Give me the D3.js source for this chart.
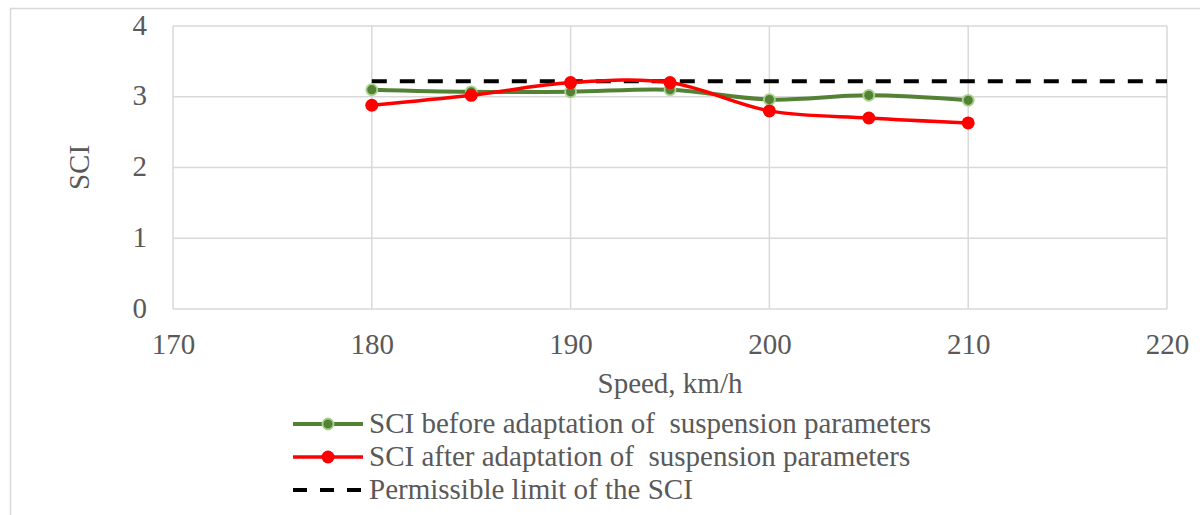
<!DOCTYPE html>
<html>
<head>
<meta charset="utf-8">
<script src="https://cdn.jsdelivr.net/npm/d3@7"></script>
<style>
  body { margin: 0; background: #fff; }
  text { font-family: "Liberation Serif", "Times New Roman", serif; }
</style>
</head>
<body>
<svg id="chart" width="1200" height="515"></svg>
<script>
// data
const speeds = [180, 185, 190, 195, 200, 205, 210];
const sciBefore = [3.10, 3.07, 3.07, 3.10, 2.96, 3.02, 2.95];
const sciAfter = [2.88, 3.02, 3.20, 3.20, 2.80, 2.70, 2.63];
const sciLimit = 3.22;
const limitRange = [180, 220];
const xTicks = [170, 180, 190, 200, 210, 220];
const yTicks = [0, 1, 2, 3, 4];
const legendLabels = [
  "SCI before adaptation of  suspension parameters",
  "SCI after adaptation of  suspension parameters",
  "Permissible limit of the SCI"
];

const svg = d3.select("#chart");
const margin = {left: 173, top: 26, right: 33, bottom: 206};
const innerWidth = 1200 - margin.left - margin.right;
const innerHeight = 515 - margin.top - margin.bottom;
const fontSize = 29;
const textColor = "#595959";

// outer frame (only left and top edges are visible)
svg.append("path")
  .attr("d", "M10.5,515 V8.5 H1200")
  .style("fill", "none").style("stroke", "#d9d9d9").style("stroke-width", 1.5);

const xScale = d3.scaleLinear().domain([170, 220]).range([0, innerWidth]);
const yScale = d3.scaleLinear().domain([0, 4]).range([innerHeight, 0]);

const g = svg.append("g").attr("transform", `translate(${margin.left},${margin.top})`);

// grid
g.selectAll(".hgrid").data(yTicks).enter().append("line")
  .attr("x1", 0).attr("x2", innerWidth)
  .attr("y1", d => yScale(d)).attr("y2", d => yScale(d))
  .style("stroke", "#d9d9d9").style("stroke-width", 1.5);
g.selectAll(".vgrid").data(xTicks).enter().append("line")
  .attr("x1", d => xScale(d)).attr("x2", d => xScale(d))
  .attr("y1", 0).attr("y2", innerHeight)
  .style("stroke", "#d9d9d9").style("stroke-width", 1.5);

// axes
const yAxis = d3.axisLeft(yScale).tickValues(yTicks).tickFormat(d3.format("d"))
  .tickSize(0).tickPadding(26);
const yG = g.append("g").call(yAxis)
  .attr("font-size", fontSize).attr("font-family", "Liberation Serif");
yG.select(".domain").remove();
yG.selectAll("text").attr("fill", textColor).attr("dy", "0.28em");

const xAxis = d3.axisBottom(xScale).tickValues(xTicks).tickFormat(d3.format("d"))
  .tickSize(0).tickPadding(24);
const xG = g.append("g").attr("transform", `translate(0,${innerHeight})`).call(xAxis)
  .attr("font-size", fontSize).attr("font-family", "Liberation Serif");
xG.select(".domain").remove();
xG.selectAll("text").attr("fill", textColor);

// axis titles
g.append("text")
  .attr("x", xScale(195)).attr("y", innerHeight + 84)
  .attr("text-anchor", "middle")
  .style("font-size", fontSize + "px").style("fill", textColor)
  .text("Speed, km/h");

g.append("text")
  .attr("transform", "rotate(-90)")
  .attr("x", -yScale(2)).attr("y", -84)
  .attr("text-anchor", "middle")
  .style("font-size", fontSize + "px").style("fill", textColor)
  .text("SCI");

// limit line
g.append("line")
  .attr("x1", xScale(limitRange[0])).attr("x2", xScale(limitRange[1]))
  .attr("y1", yScale(sciLimit)).attr("y2", yScale(sciLimit))
  .style("stroke", "#000").style("stroke-width", 4)
  .style("stroke-dasharray", "15,13");

const line = d3.line()
  .x((d, i) => xScale(speeds[i]))
  .y(d => yScale(d))
  .curve(d3.curveCardinal.tension(0));

// before
g.append("path").datum(sciBefore)
  .attr("d", line)
  .style("fill", "none").style("stroke", "#548235").style("stroke-width", 4);
g.selectAll(".pb").data(sciBefore).enter().append("circle")
  .attr("cx", (d, i) => xScale(speeds[i])).attr("cy", d => yScale(d))
  .attr("r", 5.5)
  .style("fill", "#548235").style("stroke", "#a9d18e").style("stroke-width", 1.8);

// after
g.append("path").datum(sciAfter)
  .attr("d", line)
  .style("fill", "none").style("stroke", "#ff0000").style("stroke-width", 3.5);
g.selectAll(".pa").data(sciAfter).enter().append("circle")
  .attr("cx", (d, i) => xScale(speeds[i])).attr("cy", d => yScale(d))
  .attr("r", 6.5)
  .style("fill", "#ff0000");

// legend
const legendY = [424, 457, 490];
const lx1 = 293, lx2 = 363;
legendY.forEach((y, i) => {
  if (i === 0) {
    svg.append("line").attr("x1", lx1).attr("x2", lx2).attr("y1", y).attr("y2", y)
      .style("stroke", "#548235").style("stroke-width", 4);
    svg.append("circle").attr("cx", (lx1 + lx2) / 2).attr("cy", y).attr("r", 5.5)
      .style("fill", "#548235").style("stroke", "#a9d18e").style("stroke-width", 1.8);
  } else if (i === 1) {
    svg.append("line").attr("x1", lx1).attr("x2", lx2).attr("y1", y).attr("y2", y)
      .style("stroke", "#ff0000").style("stroke-width", 3.5);
    svg.append("circle").attr("cx", (lx1 + lx2) / 2).attr("cy", y).attr("r", 6.5)
      .style("fill", "#ff0000");
  } else {
    svg.append("line").attr("x1", lx1).attr("x2", lx2).attr("y1", y).attr("y2", y)
      .style("stroke", "#000").style("stroke-width", 4)
      .style("stroke-dasharray", "14,13");
  }
  svg.append("text")
    .attr("x", 369).attr("y", y)
    .attr("dy", "0.32em")
    .attr("xml:space", "preserve")
    .style("white-space", "pre")
    .style("font-size", fontSize + "px").style("fill", textColor)
    .text(legendLabels[i]);
});
</script>
</body>
</html>
